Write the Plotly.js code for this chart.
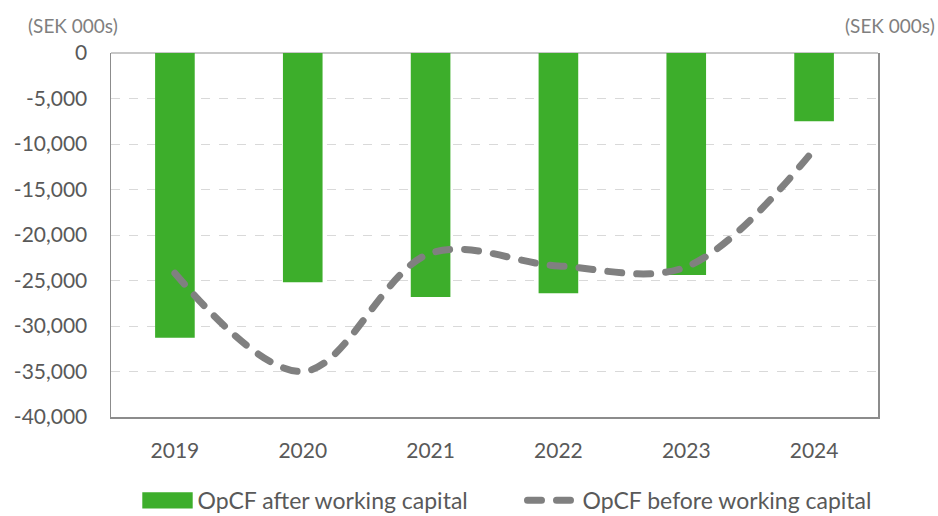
<!DOCTYPE html>
<html>
<head>
<meta charset="utf-8">
<script src="https://cdn.plot.ly/plotly-3.0.1.min.js"></script>
<style>
html,body{margin:0;padding:0;background:#fff;}
#chart{width:938px;height:516px;}
.scatterlayer .js-line, .legendlines path{stroke-linecap:round;}
</style>
</head>
<body>
<div id="chart"></div>
<script>
const years = ['2019','2020','2021','2022','2023','2024'];
const opcfAfter = [-31300, -25200, -26800, -26400, -24400, -7500];
const opcfBefore = [-24200, -35000, -22000, -23400, -23500, -10600];
const yTickVals = [0, -5000, -10000, -15000, -20000, -25000, -30000, -35000, -40000];
const yTickText = ['0', '-5,000', '-10,000', '-15,000', '-20,000', '-25,000', '-30,000', '-35,000', '-40,000'];
const unitLabel = '(SEK 000s)';

const FONT = 'Lato, "Open Sans", sans-serif';
const traces = [
  {
    type: 'bar', x: years, y: opcfAfter, name: 'OpCF after working capital',
    marker: {color: '#3dae2b'}, width: 0.31
  },
  {
    type: 'scatter', mode: 'lines', x: years, y: opcfBefore, name: 'OpCF before working capital',
    line: {color: '#808080', width: 7, shape: 'spline', smoothing: 1, dash: '14px,15px'}
  }
];
const layout = {
  width: 938, height: 516,
  margin: {l: 111, r: 60, t: 53, b: 99, autoexpand: false},
  paper_bgcolor: '#ffffff', plot_bgcolor: '#ffffff',
  font: {family: FONT, size: 21, color: '#595959'},
  showlegend: true,
  legend: {orientation: 'h', x: 0.5365, xanchor: 'center', yref: 'paper', y: -0.17, yanchor: 'top',
           font: {size: 23, color: '#595959'}, itemwidth: 50, traceorder: 'normal',
           entrywidth: 320, entrywidthmode: 'pixels'},
  xaxis: {type: 'category', showline: true, linecolor: '#8c8c8c', linewidth: 1.5, mirror: false,
          ticks: '', showgrid: false, ticklabelstandoff: 14, zeroline: false},
  yaxis: {range: [-40000, 0], tickvals: yTickVals, ticktext: yTickText, showline: true, mirror: true,
          linecolor: '#8c8c8c', linewidth: 1.5, ticks: '', showgrid: true, gridcolor: '#d9d9d9', griddash: 'dash',
          gridwidth: 1, zeroline: true, zerolinecolor: '#c8c8c8', zerolinewidth: 2, ticklabelstandoff: 18},
  annotations: [
    {text: unitLabel, xref: 'paper', yref: 'paper', x: 0, y: 1.0, xanchor: 'right', yanchor: 'bottom',
     xshift: 9, yshift: 14, showarrow: false, font: {size: 19, color: '#7f7f7f'}},
    {text: unitLabel, xref: 'paper', yref: 'paper', x: 1, y: 1.0, xanchor: 'right', yanchor: 'bottom',
     xshift: 59, yshift: 14, showarrow: false, font: {size: 19, color: '#7f7f7f'}}
  ]
};
function widenSwatch() {
  const legendTraces = document.querySelectorAll('#chart .legend .traces');
  if (!legendTraces.length) return;
  const first = legendTraces[0];
  first.querySelectorAll('path').forEach(function (p) {
    const fill = (p.style && p.style.fill) || p.getAttribute('fill') || '';
    const d = p.getAttribute('d') || '';
    if (fill.indexOf('61') >= 0 || d.indexOf('H-6') >= 0) {
      if (!p.dataset.widened) {
        const t = p.getAttribute('transform') || '';
        p.setAttribute('transform', t + ' scale(4.2,1.35)');
        p.dataset.widened = '1';
      }
    }
  });
}
const gd = document.getElementById('chart');
Plotly.newPlot(gd, traces, layout, {displayModeBar: false, staticPlot: true}).then(function () {
  widenSwatch();
  gd.on('plotly_afterplot', widenSwatch);
  setTimeout(widenSwatch, 50);
  setTimeout(widenSwatch, 300);
});
</script>
</body>
</html>
